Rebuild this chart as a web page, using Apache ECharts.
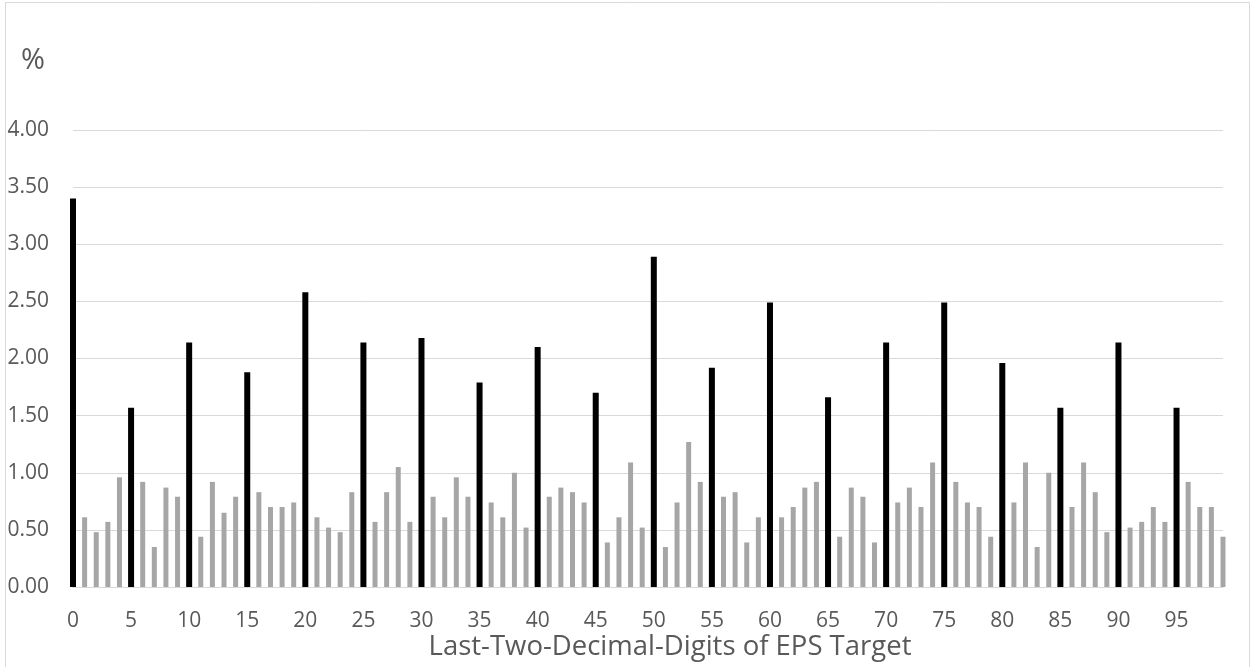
<!DOCTYPE html>
<html>
<head>
<meta charset="utf-8">
<script src="https://cdn.jsdelivr.net/npm/echarts@6/dist/echarts.min.js"></script>
<style>
html,body{margin:0;padding:0;background:#fff;}
#chart{width:1250px;height:667px;}
</style>
</head>
<body>
<div id="chart"></div>
<script>
// Last two decimal digits 0..99
const categories = Array.from({length: 100}, (_, i) => String(i));
// Frequency (%) for each last-two-digit value
const pct = [
  3.40, 0.61, 0.48, 0.57, 0.96, 1.57, 0.92, 0.35, 0.87, 0.79,
  2.14, 0.44, 0.92, 0.65, 0.79, 1.88, 0.83, 0.70, 0.70, 0.74,
  2.58, 0.61, 0.52, 0.48, 0.83, 2.14, 0.57, 0.83, 1.05, 0.57,
  2.18, 0.79, 0.61, 0.96, 0.79, 1.79, 0.74, 0.61, 1.00, 0.52,
  2.10, 0.79, 0.87, 0.83, 0.74, 1.70, 0.39, 0.61, 1.09, 0.52,
  2.89, 0.35, 0.74, 1.27, 0.92, 1.92, 0.79, 0.83, 0.39, 0.61,
  2.49, 0.61, 0.70, 0.87, 0.92, 1.66, 0.44, 0.87, 0.79, 0.39,
  2.14, 0.74, 0.87, 0.70, 1.09, 2.49, 0.92, 0.74, 0.70, 0.44,
  1.96, 0.74, 1.09, 0.35, 1.00, 1.57, 0.70, 1.09, 0.83, 0.48,
  2.14, 0.52, 0.57, 0.70, 0.57, 1.57, 0.92, 0.70, 0.70, 0.44
];
const yTicks = [0, 0.5, 1, 1.5, 2, 2.5, 3, 3.5, 4];
const xTitle = 'Last-Two-Decimal-Digits of EPS Target';
const yUnit = '%';

// split into multiples of five (black) and others (gray)
const roundData = pct.map((v, i) => (i % 5 === 0 ? v : '-'));
const otherData = pct.map((v, i) => (i % 5 === 0 ? '-' : v));

const FONT = '"Open Sans", "Noto Sans", sans-serif';
const chart = echarts.init(document.getElementById('chart'), null, {renderer: 'canvas'});
chart.setOption({
  animation: false,
  backgroundColor: '#ffffff',
  grid: {left: 73, right: 27, top: 130, bottom: 80, containLabel: false},
  xAxis: [
    {
      type: 'category',
      data: categories,
      boundaryGap: false,
      axisLine: {show: true, lineStyle: {color: '#d9d9d9', width: 1}},
      axisTick: {show: false},
      axisLabel: {interval: 4, color: '#595959', fontSize: 21, fontFamily: FONT, margin: 24},
      splitLine: {show: false}
    },
    {
      type: 'category',
      data: categories,
      boundaryGap: false,
      show: false
    }
  ],
  yAxis: {
    type: 'value',
    min: yTicks[0],
    max: yTicks[yTicks.length - 1],
    interval: yTicks[1] - yTicks[0],
    axisLine: {show: false},
    axisTick: {show: false},
    axisLabel: {color: '#595959', fontSize: 21, fontFamily: FONT, margin: 24,
      formatter: v => v.toFixed(2)},
    splitLine: {lineStyle: {color: '#d9d9d9', width: 1}}
  },
  series: [
    {
      type: 'bar',
      xAxisIndex: 0,
      data: otherData,
      barWidth: 5,
      itemStyle: {color: '#a6a6a6'},
      clip: true
    },
    {
      type: 'bar',
      xAxisIndex: 1,
      data: roundData,
      barWidth: 6,
      itemStyle: {color: '#000000'},
      clip: true
    }
  ],
  graphic: [
    {
      type: 'rect',
      left: 3, top: 0,
      shape: {x: 0.5, y: 0.5, width: 1244, height: 665},
      style: {fill: 'none', stroke: '#d9d9d9', lineWidth: 1},
      silent: true
    },
    {
      type: 'text',
      x: 670, y: 647,
      style: {text: xTitle, fill: '#595959', fontSize: 27.5, fontFamily: FONT,
        textAlign: 'center', textVerticalAlign: 'middle'}
    },
    {
      type: 'text',
      x: 33, y: 61,
      style: {text: yUnit, fill: '#595959', fontSize: 29, fontFamily: FONT,
        textAlign: 'center', textVerticalAlign: 'middle'}
    }
  ]
});
</script>
</body>
</html>
